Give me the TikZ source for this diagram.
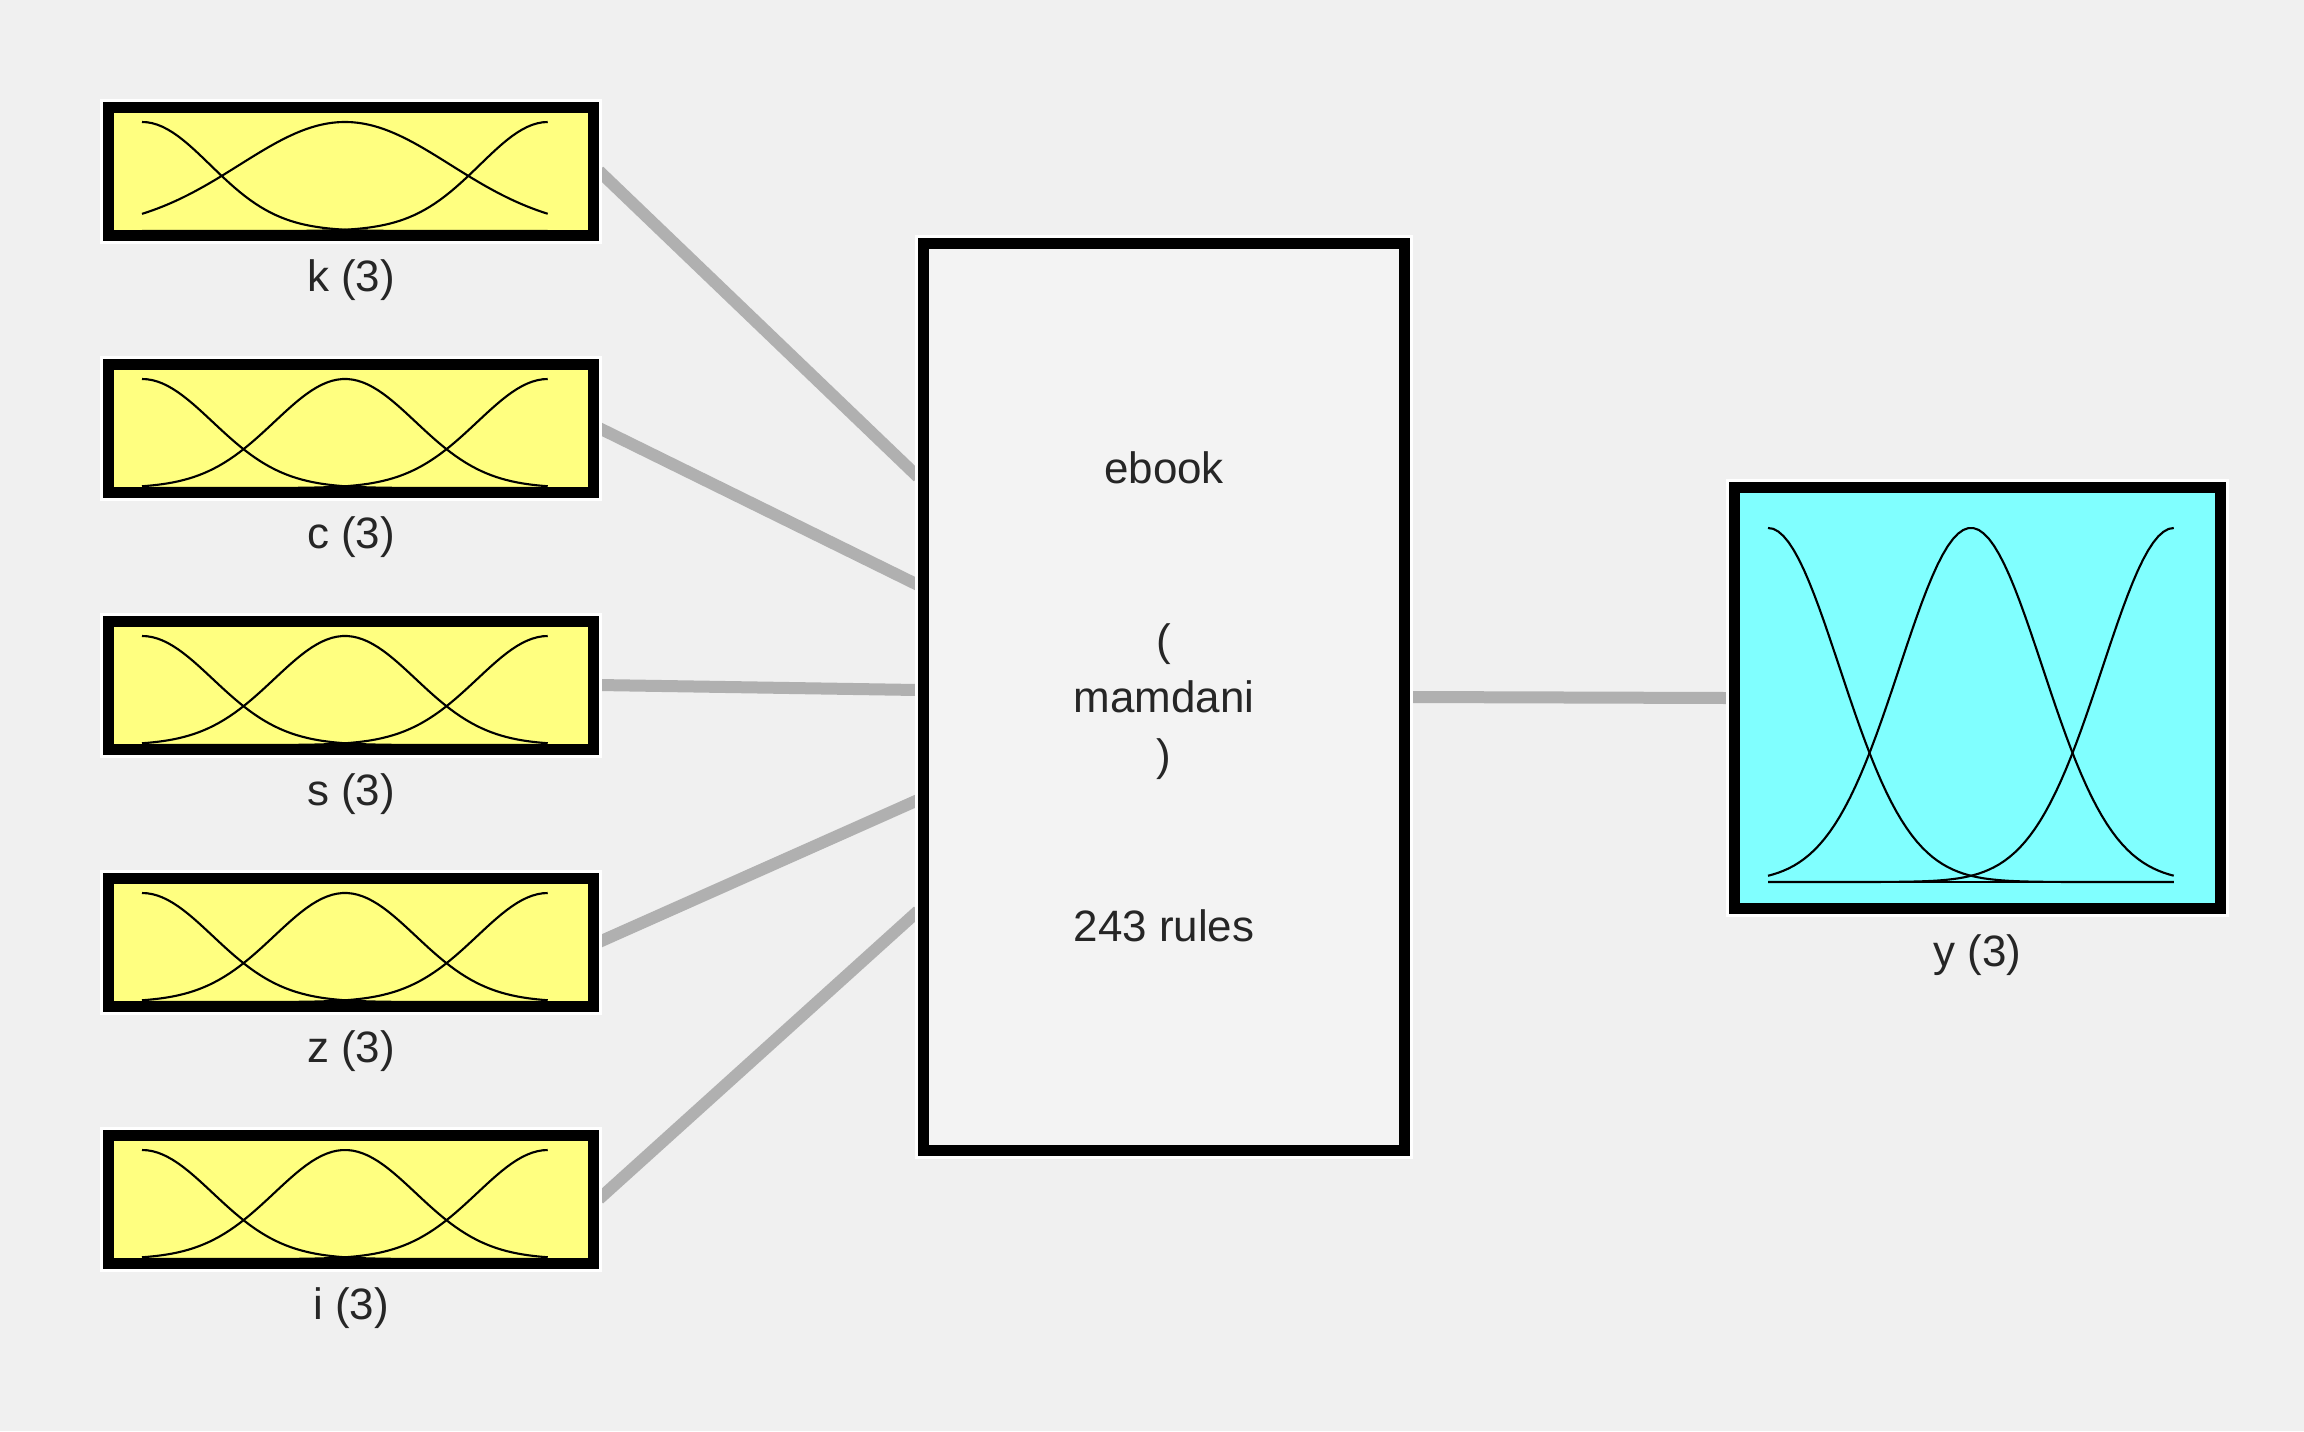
\documentclass[tikz,border=0pt]{standalone}
\usepackage{fontspec}
\setmainfont{Liberation Sans}
\usetikzlibrary{calc,backgrounds}

\definecolor{panelgray}{HTML}{F0F0F0}
\definecolor{rulesgray}{HTML}{F3F3F3}
\definecolor{mfyellow}{HTML}{FFFF80}
\definecolor{mfcyan}{HTML}{80FFFF}
\definecolor{wiregray}{HTML}{B0B0B0}

% three gaussian membership curves inside a variable box
\newcommand{\gausscurves}[5]{%
  \begin{scope}[shift={($(#1.south west)+(0.39,#2)$)}, x=4.06cm, y=#3cm]
    \draw[mfline] (0,0) -- (1,0);
    \draw[mfline] plot[domain=0:1, samples=80] (\x, {exp(0-(\x)*(\x)/(2*#4*#4))});
    \draw[mfline] plot[domain=0:1, samples=80] (\x, {exp(0-(\x-0.5)*(\x-0.5)/(2*#5*#5))});
    \draw[mfline] plot[domain=0:1, samples=80] (\x, {exp(0-(\x-1)*(\x-1)/(2*#4*#4))});
  \end{scope}}

\begin{document}
\begin{tikzpicture}[
    varbox/.style={draw=black, line width=0.11cm, inner sep=0pt,
      preaction={draw=white, line width=0.17cm}},
    inbox/.style={varbox, fill=mfyellow, minimum width=4.85cm, minimum height=1.28cm},
    outbox/.style={varbox, fill=mfcyan, minimum width=4.86cm, minimum height=4.21cm},
    rulesbox/.style={varbox, fill=rulesgray, minimum width=4.81cm, minimum height=9.07cm,
      align=center, text=black!85, font=\fontsize{12.5}{16.3}\selectfont},
    varlabel/.style={anchor=base, inner sep=0pt, text=black!85,
      font=\fontsize{12.5}{15}\selectfont},
    wire/.style={draw=wiregray, line width=0.12cm},
    mfline/.style={black, line width=0.6pt}
  ]
  \useasboundingbox (0,0) rectangle (23.04,-14.31);
  \begin{pgfonlayer}{background}
    \fill[panelgray] (0,0) rectangle (23.04,-14.31);
  \end{pgfonlayer}

  % inputs
  \node[inbox] (kbox) at (3.51,-1.71) {};
  \node[inbox] (cbox) at (3.51,-4.28) {};
  \node[inbox] (sbox) at (3.51,-6.85) {};
  \node[inbox] (zbox) at (3.51,-9.42) {};
  \node[inbox] (ibox) at (3.51,-11.99) {};

  \node[varlabel] (klab) at ($(kbox.south)+(0,-0.51)$) {k (3)};
  \node[varlabel] (clab) at ($(cbox.south)+(0,-0.51)$) {c (3)};
  \node[varlabel] (slab) at ($(sbox.south)+(0,-0.51)$) {s (3)};
  \node[varlabel] (zlab) at ($(zbox.south)+(0,-0.51)$) {z (3)};
  \node[varlabel] (ilab) at ($(ibox.south)+(0,-0.51)$) {i (3)};

  \gausscurves{kbox}{0.095}{1.09}{0.168}{0.26}
  \gausscurves{cbox}{0.095}{1.09}{0.174}{0.174}
  \gausscurves{sbox}{0.095}{1.09}{0.174}{0.174}
  \gausscurves{zbox}{0.095}{1.09}{0.174}{0.174}
  \gausscurves{ibox}{0.095}{1.09}{0.174}{0.174}

  % rule block
  \node[rulesbox] (rules) at (11.64,-6.97)
    {ebook\\[32.6pt](\\mamdani\\)\\[32.6pt]243 rules};

  % output
  \node[outbox] (ybox) at (19.775,-6.98) {};
  \node[varlabel] (ylab) at ($(ybox.south)+(0,-0.52)$) {y (3)};
  \gausscurves{ybox}{0.32}{3.54}{0.176}{0.176}

  \coordinate (rk) at ($(rules.west)+(0,2.2)$);
  \coordinate (rc) at ($(rules.west)+(0,1.12)$);
  \coordinate (rs) at ($(rules.west)+(0,0.07)$);
  \coordinate (rz) at ($(rules.west)+(0,-1.03)$);
  \coordinate (ri) at ($(rules.west)+(0,-2.14)$);

  \begin{pgfonlayer}{background}
    \draw[wire] (kbox.east) -- (rk);
    \draw[wire] (cbox.east) -- (rc);
    \draw[wire] (sbox.east) -- (rs);
    \draw[wire] (zbox.east) -- (rz);
    \draw[wire] (ibox.east) -- (ri);
    \draw[wire] (rules.east) -- (ybox.west);
  \end{pgfonlayer}
\end{tikzpicture}
\end{document}
